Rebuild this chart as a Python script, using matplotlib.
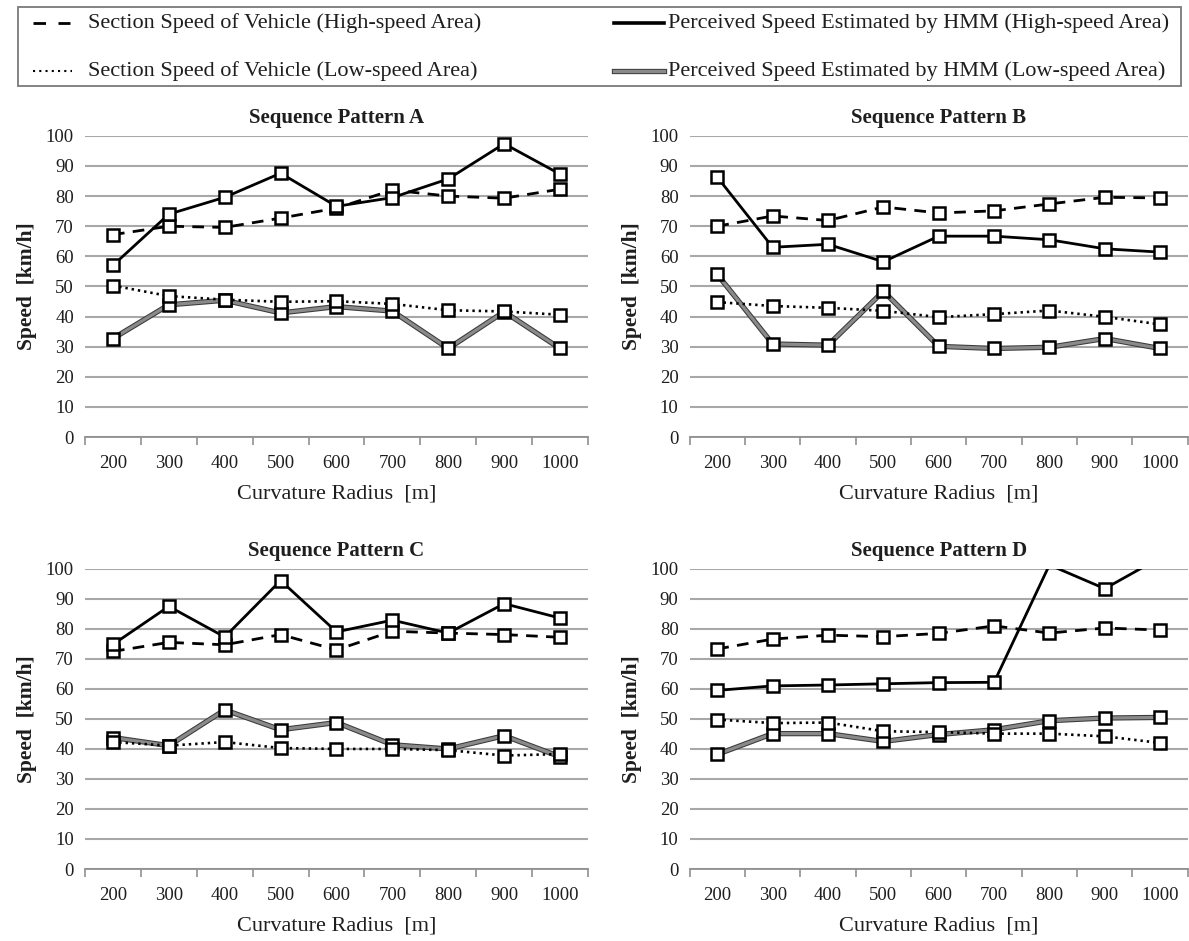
import matplotlib
matplotlib.use("Agg")
import matplotlib.pyplot as plt
import matplotlib.patheffects as pe
from matplotlib.lines import Line2D
from matplotlib.patches import Rectangle
import numpy as np

plt.rcParams['font.family'] = ['Liberation Serif', 'DejaVu Serif']

radii = [200, 300, 400, 500, 600, 700, 800, 900, 1000]
titles = ["Sequence Pattern A", "Sequence Pattern B", "Sequence Pattern C", "Sequence Pattern D"]

# Section speed of vehicle (high-speed area)
sec_high_A = [67.2, 70.0, 69.6, 72.7, 76.0, 82.0, 80.0, 79.3, 82.3]
sec_high_B = [70.0, 73.4, 71.9, 76.4, 74.4, 75.1, 77.4, 79.6, 79.4]
sec_high_C = [72.5, 75.5, 74.7, 78.1, 73.0, 79.2, 78.6, 78.1, 77.2]
sec_high_D = [73.3, 76.6, 77.9, 77.4, 78.5, 81.0, 78.6, 80.3, 79.6]

# Perceived speed estimated by HMM (high-speed area)
hmm_high_A = [57.0, 74.0, 79.6, 87.6, 76.6, 79.5, 85.7, 97.4, 87.3]
hmm_high_B = [86.3, 63.0, 64.0, 58.2, 66.7, 66.7, 65.5, 62.5, 61.4]
hmm_high_C = [74.8, 87.5, 77.3, 96.1, 79.0, 82.9, 78.6, 88.4, 83.6]
hmm_high_D = [59.5, 61.0, 61.3, 61.7, 62.1, 62.2, 101.3, 93.4, 103.7]

# Section speed of vehicle (low-speed area)
sec_low_A = [50.3, 46.8, 45.6, 44.9, 45.1, 44.2, 42.1, 41.7, 40.6]
sec_low_B = [44.8, 43.5, 42.9, 41.9, 39.8, 40.8, 42.0, 39.9, 37.4]
sec_low_C = [42.3, 41.1, 42.3, 40.3, 40.0, 40.0, 39.6, 37.8, 38.3]
sec_low_D = [49.8, 48.6, 48.8, 45.9, 45.6, 45.1, 45.1, 44.2, 42.0]

# Perceived speed estimated by HMM (low-speed area)
hmm_low_A = [32.7, 43.9, 45.4, 41.2, 43.3, 41.8, 29.4, 41.6, 29.4]
hmm_low_B = [54.0, 30.9, 30.5, 48.4, 30.1, 29.4, 29.8, 32.7, 29.4]
hmm_low_C = [43.8, 41.1, 53.0, 46.4, 48.8, 41.4, 40.0, 44.4, 37.4]
hmm_low_D = [38.2, 45.1, 45.1, 42.5, 44.8, 46.4, 49.4, 50.3, 50.5]

panels = [
    (sec_high_A, hmm_high_A, sec_low_A, hmm_low_A),
    (sec_high_B, hmm_high_B, sec_low_B, hmm_low_B),
    (sec_high_C, hmm_high_C, sec_low_C, hmm_low_C),
    (sec_high_D, hmm_high_D, sec_low_D, hmm_low_D),
]

W, H = 1189, 941
fig = plt.figure(figsize=(W / 100, H / 100), dpi=100)

positions = [
    [0.0715, 0.5356, 0.4230, 0.3200],
    [0.5800, 0.5356, 0.4190, 0.3200],
    [0.0715, 0.0765, 0.4230, 0.3190],
    [0.5800, 0.0765, 0.4190, 0.3190],
]

grid_c = '#a8a8a8'
gray_line = '#8a8a8a'
txt_c = '#1e1e1e'
dash_style = (0, (4.2, 3.0))
dot_style = (0, (0.9, 1.5))
mk = dict(marker='s', markersize=8.8, markerfacecolor='white',
          markeredgecolor='black', markeredgewidth=1.8)
gray_fx = [pe.Stroke(linewidth=3.8, foreground='#3a3a3a'), pe.Normal()]

x = np.arange(len(radii))

for i, (pos, title, data) in enumerate(zip(positions, titles, panels)):
    ax = fig.add_axes(pos)
    sh, hh, sl, hl = [np.array(d, dtype=float) for d in data]

    # low-speed HMM (gray line with dark outline)
    ax.plot(x, hl, color=gray_line, lw=2.3, zorder=3, path_effects=gray_fx)
    ax.plot(x, hl, ls='none', zorder=5, **mk)
    # low-speed section
    ax.plot(x, sl, color='black', lw=1.9, ls=dot_style, zorder=4)
    ax.plot(x, sl, ls='none', zorder=5, **mk)
    # high-speed section
    ax.plot(x, sh, color='black', lw=2.0, ls=dash_style, zorder=4)
    ax.plot(x, sh, ls='none', zorder=5, **mk)
    # high-speed HMM
    ax.plot(x, hh, color='black', lw=2.0, zorder=4)
    hh_mk = np.where(hh <= 100, hh, np.nan)
    ax.plot(x, hh_mk, ls='none', zorder=5, **mk)

    ax.set_xlim(-0.5, len(radii) - 0.5)
    ax.set_ylim(0, 100)
    ax.set_yticks(np.arange(0, 101, 10))
    ax.set_xticks(x)
    ax.set_xticklabels([str(r) for r in radii])
    ax.set_xticks(np.arange(-0.5, len(radii), 1.0), minor=True)
    ax.tick_params(axis='x', which='major', length=0, pad=13, labelsize=13.5)
    ax.tick_params(axis='x', which='minor', length=6, width=1.2, color='#909090', direction='out')
    ax.tick_params(axis='y', length=0, pad=8, labelsize=13.5)
    for lab in ax.get_xticklabels() + ax.get_yticklabels():
        lab.set_color(txt_c)

    ax.grid(axis='y', color=grid_c, lw=1.5, zorder=0)
    ax.set_axisbelow(True)
    for s in ['top', 'right', 'left']:
        ax.spines[s].set_visible(False)
    ax.spines['bottom'].set_color('#909090')
    ax.spines['bottom'].set_linewidth(1.3)

    ax.set_title(title, fontsize=15, fontweight='bold', pad=9, color=txt_c)
    ax.set_xlabel("Curvature Radius  [m]", fontsize=16, labelpad=9, color=txt_c)
    ax.set_ylabel("Speed  [km/h]", fontsize=15.5, fontweight='bold', labelpad=6, color=txt_c)

# ---- legend (manual layout to match the two differently sized columns) ----
def fx(px):
    return px / W

def fy(py):
    return 1 - py / H

fig.patches.append(Rectangle((fx(18), fy(86)), fx(1181) - fx(18), fy(7) - fy(86),
                             transform=fig.transFigure, fill=False,
                             edgecolor='#7a7a7a', lw=1.3, zorder=0))

legend_labels = [
    "Section Speed of Vehicle (High-speed Area)",
    "Section Speed of Vehicle (Low-speed Area)",
    "Perceived Speed Estimated by HMM (High-speed Area)",
    "Perceived Speed Estimated by HMM (Low-speed Area)",
]
legend_styles = [
    dict(color='black', lw=2.0, ls=(0, (4.5, 4.5))),
    dict(color='black', lw=1.5, ls=(0, (1.0, 2.0))),
    dict(color='black', lw=2.6),
    dict(color=gray_line, lw=2.4, path_effects=gray_fx),
]
legend_cols = [(33, 70, 88), (33, 72, 88), (614, 664, 668), (614, 664, 668)]
legend_rows = [23, 71, 23, 71]

for lab, st, (h0, h1, tx), ry in zip(legend_labels, legend_styles, legend_cols, legend_rows):
    fig.add_artist(Line2D([fx(h0), fx(h1)], [fy(ry), fy(ry)],
                          transform=fig.transFigure, **st))
    fig.text(fx(tx), fy(ry), lab, fontsize=16, va='center', ha='left', color=txt_c)

fig.savefig("out.png", dpi=100)
